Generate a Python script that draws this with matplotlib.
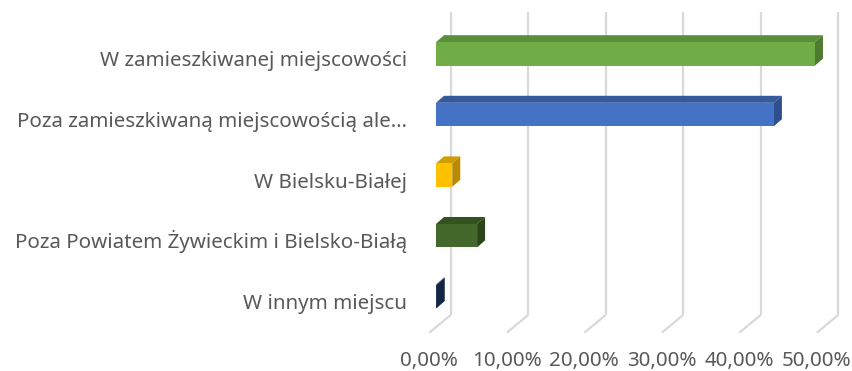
import matplotlib
matplotlib.use("Agg")
import matplotlib.pyplot as plt
from matplotlib.patches import Polygon

categories = [
    "W zamieszkiwanej miejscowości",
    "Poza zamieszkiwaną miejscowością ale…",
    "W Bielsku-Białej",
    "Poza Powiatem Żywieckim i Bielsko-Białą",
    "W innym miejscu",
]
shares = [48.9, 43.6, 2.1, 5.3, 0.1]          # percent
tick_values = [0, 10, 20, 30, 40, 50]
tick_labels = ["0,00%", "10,00%", "20,00%", "30,00%", "40,00%", "50,00%"]

front_colors = ["#70ad47", "#4472c4", "#ffc000", "#43682b", "#203864"]
top_colors = ["#5b8e39", "#35599b", "#d09d00", "#34521f", "#1a2e52"]
side_colors = ["#4f7b31", "#2e4f8a", "#b88a00", "#2b441a", "#152645"]

W_PX, H_PX = 853, 371
X_PX = 7.75          # pixels per percent
Y_PX = 60.6          # pixels per category slot
X0_PX = 436.0        # pixel of 0 % on the bar front plane
Y0_PX = 53.9         # pixel of the first category centre

# oblique 3-D offsets, in data units
BAR_DX, BAR_DY = 8 / X_PX, -7 / Y_PX            # bar depth
WALL_DX = 14.7 / X_PX                           # back wall behind the bars
FLOOR_DX, FLOOR_DY = -6.7 / X_PX, 17.7 / Y_PX   # floor front edge
WALL_TOP = (12 - Y0_PX) / Y_PX
WALL_BOTTOM = (315 - Y0_PX) / Y_PX
HALF_H = 0.193
LABEL_X = (407 - X0_PX) / X_PX
LABEL_DY = 12.5 / Y_PX
TICK_Y = (366 - Y0_PX) / Y_PX

GRID = "#d9d9d9"
TEXT = "#595959"
FONT_SIZE = 14.8

plt.rcParams["font.family"] = ["Noto Sans", "DejaVu Sans"]

fig = plt.figure(figsize=(W_PX / 100, H_PX / 100), dpi=100)
ax = fig.add_axes([0, 0, 1, 1])
ax.set_xlim(-X0_PX / X_PX, (W_PX - X0_PX) / X_PX)
ax.set_ylim((H_PX - Y0_PX) / Y_PX, -Y0_PX / Y_PX)
ax.axis("off")

# back-wall gridlines plus their slant across the floor
for t, lab in zip(tick_values, tick_labels):
    xb = t + WALL_DX
    ax.plot([xb, xb], [WALL_TOP, WALL_BOTTOM], color=GRID, lw=1.6,
            zorder=1, solid_capstyle="butt")
    ax.plot([xb, t + FLOOR_DX], [WALL_BOTTOM, WALL_BOTTOM + FLOOR_DY],
            color=GRID, lw=1.6, zorder=1, solid_capstyle="butt")
    ax.text(t + FLOOR_DX, TICK_Y, lab, ha="center", va="baseline",
            fontsize=FONT_SIZE, color=TEXT)

# 3-D bars: front face, top face, right side
for i, (v, fc, tc, sc) in enumerate(zip(shares, front_colors, top_colors,
                                        side_colors)):
    top, bot = i - HALF_H, i + HALF_H
    front = [(0, top), (v, top), (v, bot), (0, bot)]
    lid = [(0, top), (v, top), (v + BAR_DX, top + BAR_DY),
           (BAR_DX, top + BAR_DY)]
    side = [(v, top), (v + BAR_DX, top + BAR_DY),
            (v + BAR_DX, bot + BAR_DY), (v, bot)]
    ax.add_patch(Polygon(lid, closed=True, fc=tc, ec="none", zorder=2))
    ax.add_patch(Polygon(side, closed=True, fc=sc, ec="none", zorder=2))
    ax.add_patch(Polygon(front, closed=True, fc=fc, ec="none", zorder=3))
    ax.text(LABEL_X, i + LABEL_DY, categories[i], ha="right",
            va="baseline", fontsize=FONT_SIZE, color=TEXT)

fig.savefig("out.png", dpi=100)
